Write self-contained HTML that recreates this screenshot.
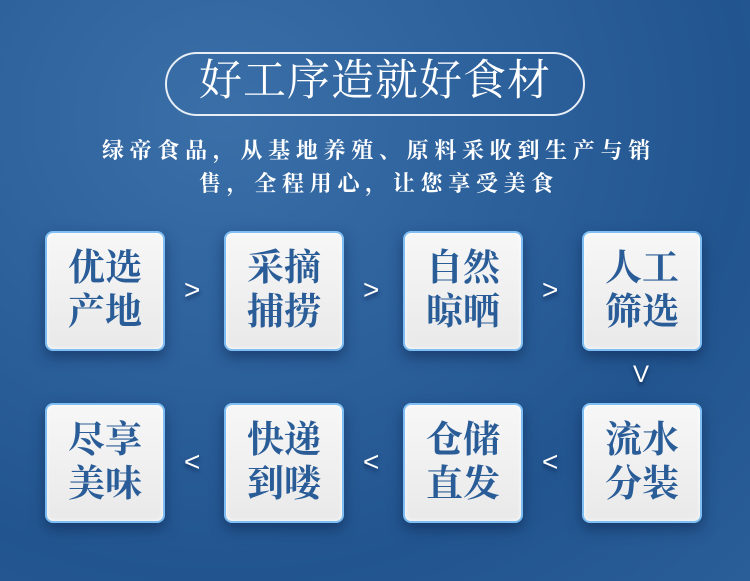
<!DOCTYPE html>
<html><head><meta charset="utf-8"><style>
body{margin:0;width:750px;height:581px;overflow:hidden;position:relative;
background:radial-gradient(ellipse at 30% 20%,#3a6fa8 0%,#2c609b 40%,#22558f 70%,#2a5e98 100%);
font-family:"Liberation Serif","Noto Serif CJK SC",serif;}
.pill{position:absolute;left:165px;top:52px;width:416px;height:60px;border:2px solid #e8eef6;border-radius:32px;}
.title{position:absolute;left:165px;top:50px;width:420px;height:64px;line-height:64px;text-align:center;color:#fff;font-size:43px;letter-spacing:1px;}
.sub{position:absolute;left:4px;width:750px;text-align:center;color:#fff;font-size:22px;letter-spacing:5.7px;font-weight:bold;font-family:"Liberation Serif","Noto Serif CJK SC",serif;}
.box{position:absolute;border:2px solid #7fbef2;border-radius:8px;
background:linear-gradient(#f7f7f7,#e9e9ea);box-shadow:0 6px 14px rgba(10,30,70,.5),inset 0 0 4px #fff;
color:#2a5d98;font-size:37px;font-weight:bold;text-align:center;line-height:44px;padding-top:14px;box-sizing:border-box;height:120px;width:120px;}
.ar{position:absolute;color:#fff;font-size:28px;font-family:"Liberation Sans",sans-serif;text-shadow:0 3px 4px rgba(0,20,60,.6);}
</style></head><body>
<div class="pill"></div>
<div class="title">好工序造就好食材</div>
<div class="sub" style="top:134px">绿帝食品，从基地养殖、原料采收到生产与销</div>
<div class="sub" style="top:167px">售，全程用心，让您享受美食</div>

<div class="box" style="left:45px;top:231px">优选<br>产地</div>
<div class="box" style="left:224px;top:231px">采摘<br>捕捞</div>
<div class="box" style="left:403px;top:231px">自然<br>晾晒</div>
<div class="box" style="left:582px;top:231px">人工<br>筛选</div>
<div class="box" style="left:45px;top:403px">尽享<br>美味</div>
<div class="box" style="left:224px;top:403px">快递<br>到喽</div>
<div class="box" style="left:403px;top:403px">仓储<br>直发</div>
<div class="box" style="left:582px;top:403px">流水<br>分装</div>

<div class="ar" style="left:184px;top:274px">&gt;</div>
<div class="ar" style="left:363px;top:274px">&gt;</div>
<div class="ar" style="left:542px;top:274px">&gt;</div>
<div class="ar" style="left:184px;top:446px">&lt;</div>
<div class="ar" style="left:363px;top:446px">&lt;</div>
<div class="ar" style="left:542px;top:446px">&lt;</div>
<div class="ar" style="left:633px;top:361px;font-size:24px">V</div>
</body></html>
